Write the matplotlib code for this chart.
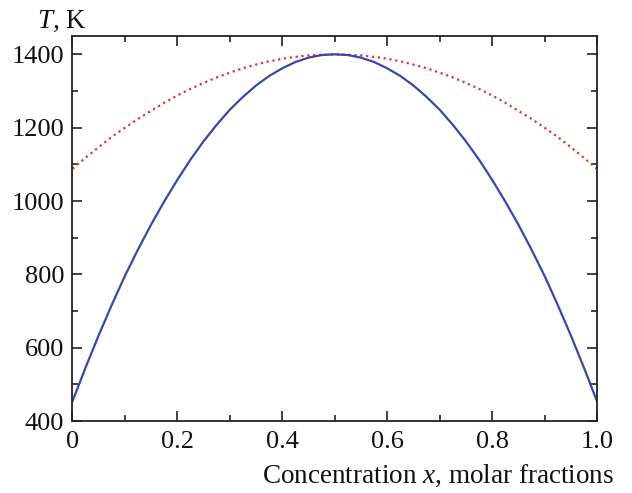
import matplotlib
matplotlib.use("Agg")
import matplotlib.pyplot as plt
from matplotlib.ticker import MultipleLocator, FuncFormatter

# --- Data ---
conc = [0.000, 0.025, 0.050, 0.075, 0.100, 0.125, 0.150, 0.175, 0.200, 0.225,
        0.250, 0.275, 0.300, 0.325, 0.350, 0.375, 0.400, 0.425, 0.450, 0.475,
        0.500, 0.525, 0.550, 0.575, 0.600, 0.625, 0.650, 0.675, 0.700, 0.725,
        0.750, 0.775, 0.800, 0.825, 0.850, 0.875, 0.900, 0.925, 0.950, 0.975,
        1.000]
t_solid = [454, 546, 634, 717, 796, 868, 936, 999, 1058, 1113,
           1163, 1208, 1249, 1284, 1315, 1341, 1362, 1379, 1391, 1398,
           1400, 1398, 1391, 1379, 1362, 1341, 1315, 1284, 1249, 1208,
           1163, 1113, 1058, 999, 936, 868, 796, 717, 634, 546,
           454]
t_dotted = [1088, 1118, 1147, 1175, 1200, 1224, 1246, 1268, 1288, 1306,
            1322, 1337, 1350, 1362, 1372, 1381, 1388, 1393, 1397, 1399,
            1400, 1399, 1397, 1393, 1388, 1381, 1372, 1362, 1350, 1337,
            1322, 1306, 1288, 1268, 1246, 1224, 1200, 1175, 1147, 1118,
            1088]

x_ticks = [0, 0.2, 0.4, 0.6, 0.8, 1.0]
y_ticks = [400, 600, 800, 1000, 1200, 1400]

# --- Style ---
plt.rcParams['font.family'] = ['Liberation Serif', 'DejaVu Serif']
plt.rcParams['mathtext.fontset'] = 'custom'
plt.rcParams['mathtext.rm'] = 'Liberation Serif'
plt.rcParams['mathtext.it'] = 'Liberation Serif:italic'

fig = plt.figure(figsize=(6.32, 4.93), dpi=100)
ax = fig.add_axes([0.1147, 0.146, 0.8299, 0.781])

ax.plot(conc, t_dotted, color='#e8322b', linestyle=':', linewidth=1.6)
ax.plot(conc, t_solid, color='#3b47a6', linestyle='-', linewidth=1.6)

ax.set_xlim(0, 1.0)
ax.set_ylim(400, 1450)
ax.set_xticks(x_ticks)
ax.set_yticks(y_ticks)
ax.xaxis.set_minor_locator(MultipleLocator(0.1))
ax.yaxis.set_minor_locator(MultipleLocator(100))
ax.xaxis.set_major_formatter(FuncFormatter(lambda v, p: '0' if v == 0 else f'{v:.1f}'))

ax.tick_params(which='both', direction='in', top=True, right=True,
               labelsize=19, width=1.2, color='#222222', labelcolor='#111111')
ax.tick_params(which='major', length=7)
ax.tick_params(which='minor', length=4)
ax.tick_params(axis='y', pad=6)
ax.tick_params(axis='x', pad=7)
for s in ax.spines.values():
    s.set_linewidth(1.3)
    s.set_color('#222222')

fig.text(37 / 632, 1 - 28 / 493, '$T$, K', fontsize=19.5, ha='left',
         va='baseline', color='#111111')
fig.text(614 / 632, 1 - 483 / 493, 'Concentration $x$, molar fractions',
         fontsize=19.5, ha='right', va='baseline', color='#111111')

fig.savefig('out.png', dpi=100)
